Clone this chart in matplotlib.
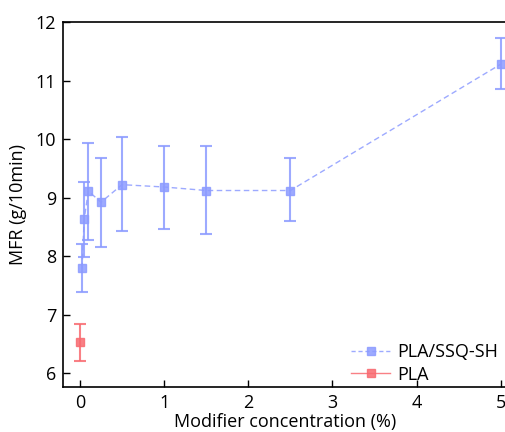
import matplotlib.pyplot as plt
from matplotlib.lines import Line2D

plt.rcParams['font.family'] = ['Open Sans', 'DejaVu Sans']

# PLA/SSQ-SH series
conc = [0.025, 0.05, 0.1, 0.25, 0.5, 1.0, 1.5, 2.5, 5.0]
mfr = [7.79, 8.63, 9.11, 8.92, 9.22, 9.18, 9.12, 9.12, 11.28]
err_lo = [0.41, 0.65, 0.84, 0.76, 0.80, 0.71, 0.75, 0.52, 0.43]
err_hi = [0.41, 0.64, 0.83, 0.76, 0.81, 0.70, 0.76, 0.55, 0.44]

# pure PLA
pla_x = [0.0]
pla_y = [6.53]
pla_lo = [0.33]
pla_hi = [0.30]

blue = '#8c9bff'
red = '#f86a70'

fig = plt.figure(figsize=(5.05, 4.32), dpi=100)
ax = fig.add_axes([0.125, 0.104, 0.88, 0.845])

ax.errorbar(conc, mfr, yerr=[err_lo, err_hi], color=blue, ls='--', lw=1,
            marker='s', ms=6, capsize=4, elinewidth=1.5, capthick=1.5,
            dashes=(4, 2.5), alpha=0.85)
ax.errorbar(pla_x, pla_y, yerr=[pla_lo, pla_hi], color=red, ls='-', lw=1,
            marker='s', ms=6, capsize=4, elinewidth=1.5, capthick=1.5,
            alpha=0.85)

ax.set_xlim(-0.2, 5.08)
ax.set_ylim(5.76, 12.0)
ax.set_xticks([0, 1, 2, 3, 4, 5])
ax.set_yticks([6, 7, 8, 9, 10, 11, 12])
ax.tick_params(direction='in', labelsize=13, length=5, width=1, pad=5)
ax.set_xlabel('Modifier concentration (%)', fontsize=13, labelpad=1)
ax.set_ylabel('MFR (g/10min)', fontsize=13, labelpad=6)
for s in ax.spines.values():
    s.set_linewidth(1.2)

handles = [
    Line2D([], [], color=blue, ls='--', dashes=(3, 2), lw=1, marker='s', ms=6, alpha=0.85),
    Line2D([], [], color=red, ls='-', lw=1, marker='s', ms=6, alpha=0.85),
]
ax.legend(handles, ['PLA/SSQ-SH', 'PLA'], loc='lower right', frameon=False,
          fontsize=13, handlelength=2.2, bbox_to_anchor=(1.0, -0.015),
          borderaxespad=0.1, labelspacing=0.25, handletextpad=0.4)

fig.savefig('out.png', dpi=100)
